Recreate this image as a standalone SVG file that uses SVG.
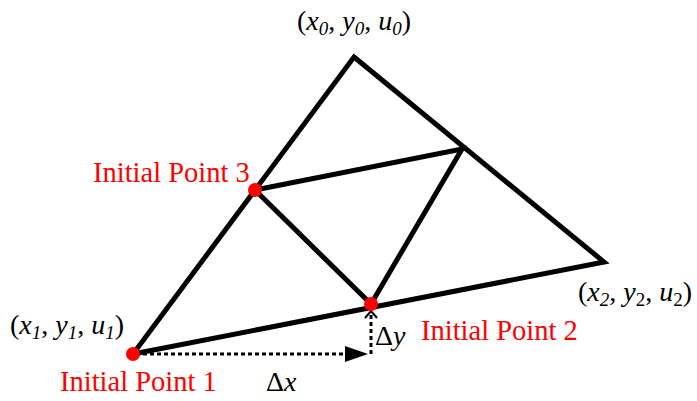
<svg xmlns="http://www.w3.org/2000/svg" width="697" height="401" viewBox="0 0 697 401">
<style>
.edge{stroke:#000;stroke-width:5;fill:none;stroke-linejoin:miter}
.dash{stroke:#000;stroke-width:3;fill:none;stroke-dasharray:4 3}
.lbl{font-family:"Liberation Serif","Times New Roman",serif;font-size:28px;fill:#000}
.red{font-family:"Liberation Serif","Times New Roman",serif;font-size:28.5px;fill:#ff0000}
.sub{font-size:19px;font-style:italic}
.dot{fill:#ff0000}
</style>
<g id="connectors">
<path class="edge" d="M354,57 L604,262 L133,354 Z"/>
<path class="edge" d="M255,190 L462,149 L371,304 Z"/>
<path class="dash" d="M136,354 L350,354"/>
<path d="M345,346 L368,354 L345,362 Z" fill="#000"/>
<path class="dash" d="M371,354 L371,314"/>
<path d="M365,318 L371,311 L377,318" fill="none" stroke="#000" stroke-width="2"/>
</g>
<g id="v0"><text class="lbl" x="297" y="30"><tspan>(</tspan><tspan font-style="italic">x</tspan><tspan class="sub" dy="5">0</tspan><tspan dy="-5">, </tspan><tspan font-style="italic">y</tspan><tspan class="sub" dy="5">0</tspan><tspan dy="-5">, </tspan><tspan font-style="italic">u</tspan><tspan class="sub" dy="5">0</tspan><tspan dy="-5">)</tspan></text></g>
<g id="v1"><text class="lbl" x="10" y="334"><tspan>(</tspan><tspan font-style="italic">x</tspan><tspan class="sub" dy="5">1</tspan><tspan dy="-5">, </tspan><tspan font-style="italic">y</tspan><tspan class="sub" dy="5">1</tspan><tspan dy="-5">, </tspan><tspan font-style="italic">u</tspan><tspan class="sub" dy="5">1</tspan><tspan dy="-5">)</tspan></text></g>
<g id="v2"><text class="lbl" x="578" y="301"><tspan>(</tspan><tspan font-style="italic">x</tspan><tspan class="sub" font-style="normal" dy="5">2</tspan><tspan dy="-5">, </tspan><tspan font-style="italic">y</tspan><tspan class="sub" style="font-style:normal" dy="5">2</tspan><tspan dy="-5">, </tspan><tspan font-style="italic">u</tspan><tspan class="sub" style="font-style:normal" dy="5">2</tspan><tspan dy="-5">)</tspan></text></g>
<g id="p1"><circle class="dot" cx="133" cy="354" r="7"/><text class="red" x="60" y="391">Initial Point 1</text></g>
<g id="p2"><circle class="dot" cx="371" cy="304" r="7"/><text class="red" x="421" y="340">Initial Point 2</text></g>
<g id="p3"><circle class="dot" cx="255" cy="190" r="7"/><text class="red" x="93" y="182">Initial Point 3</text></g>
<g id="dx"><text class="lbl" x="266" y="391">Δ<tspan font-style="italic">x</tspan></text></g>
<g id="dy"><text class="lbl" x="375" y="345">Δ<tspan font-style="italic">y</tspan></text></g>
</svg>
